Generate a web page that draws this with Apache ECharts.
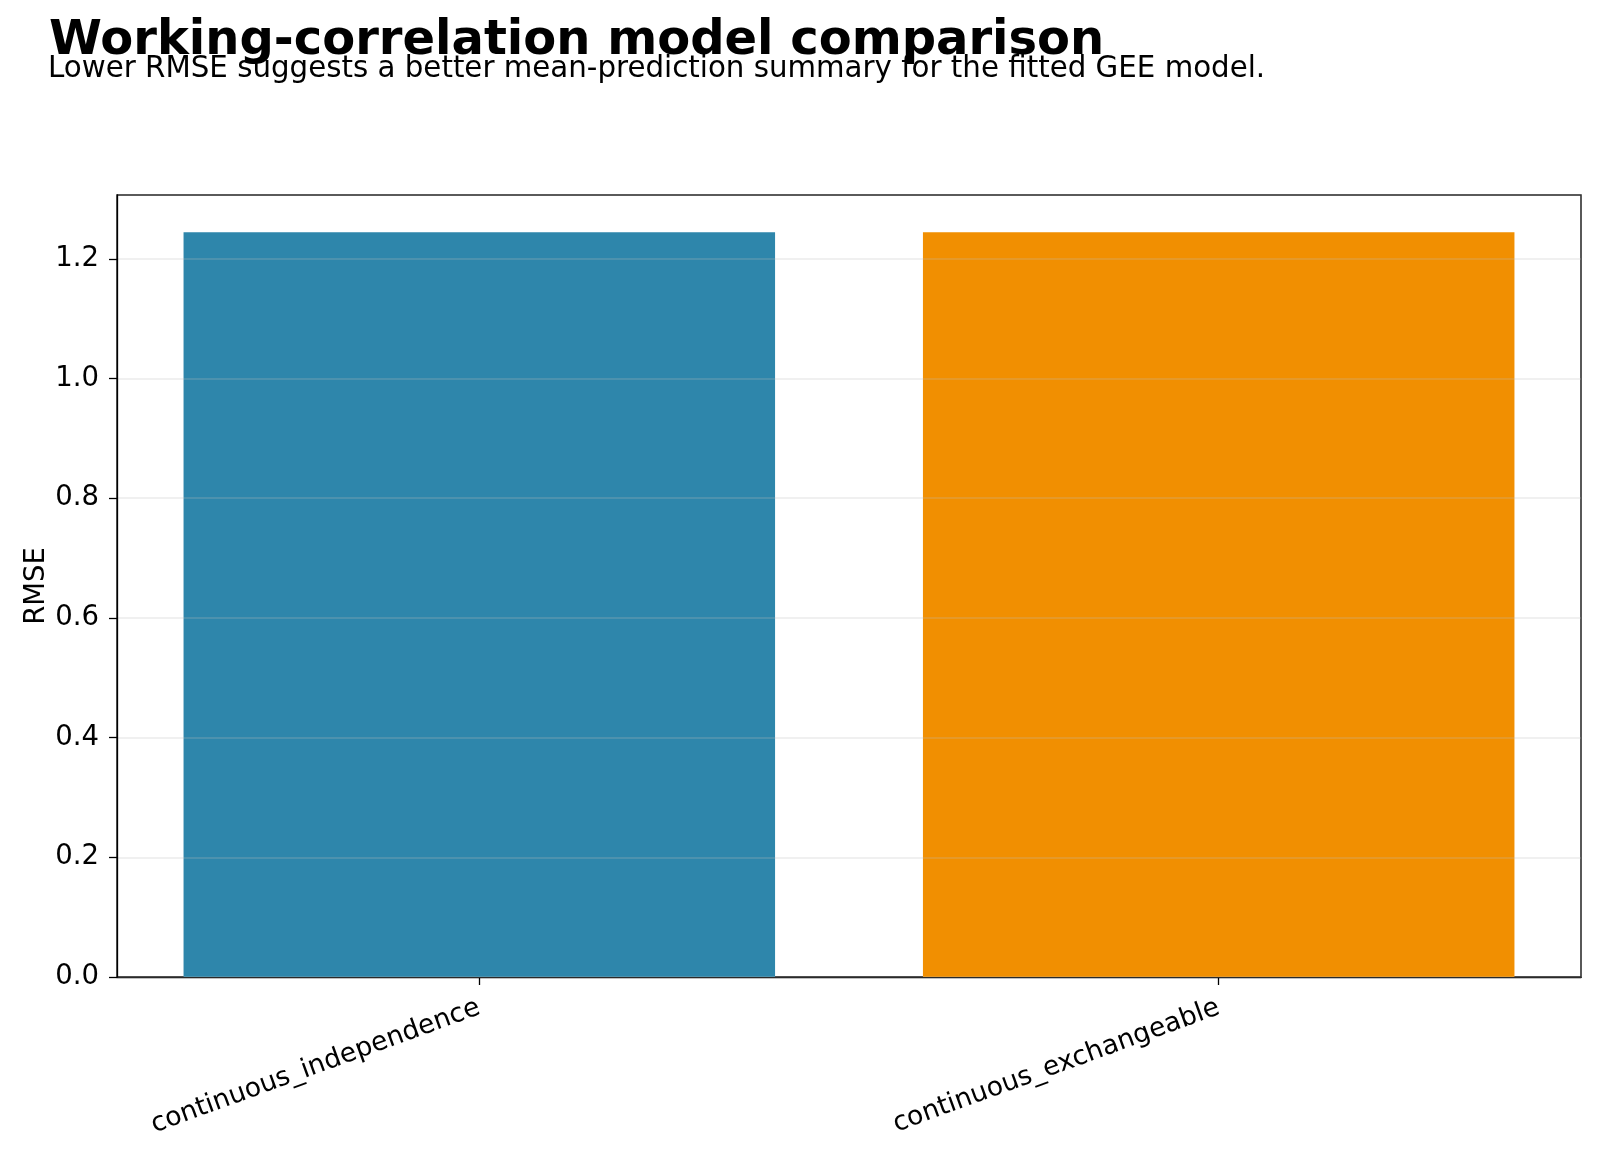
<!DOCTYPE html>
<html>
<head>
<meta charset="utf-8">
<script src="https://cdn.jsdelivr.net/npm/echarts@6/dist/echarts.min.js"></script>
<style>
  html, body { margin: 0; padding: 0; background: #fff; }
  #chart { width: 1600px; height: 1159px; }
</style>
</head>
<body>
<div id="chart"></div>
<script>
// Data
const categories = ['continuous_independence', 'continuous_exchangeable'];
const positions = [0, 1];
const rmseValues = [1.2445, 1.2446];
const barColors = ['#2E86AB', '#F18F01'];
const yTicks = [0, 0.2, 0.4, 0.6, 0.8, 1.0, 1.2];

const FONT = 'DejaVu Sans';
const TICK_FONT = 27.5;

// plot box (px) and matplotlib-like x range with 5% margins
const GRID = { left: 117, right: 19, top: 195, bottom: 182 };
const X_MIN = -0.49, X_MAX = 1.49;
const plotWidth = 1600 - GRID.left - GRID.right;
const barPx = 0.8 / (X_MAX - X_MIN) * plotWidth;

const chart = echarts.init(document.getElementById('chart'), null, { renderer: 'canvas' });

const option = {
    backgroundColor: '#fff',
    animation: false,
    title: [
        {
            text: 'Working-correlation model comparison',
            left: 44,
            top: 13,
            textStyle: { fontFamily: FONT, fontWeight: 'bold', fontSize: 48, color: '#000' }
        },
        {
            text: 'Lower RMSE suggests a better mean-prediction summary for the fitted GEE model.',
            left: 43,
            top: 50,
            textStyle: { fontFamily: FONT, fontWeight: 'normal', fontSize: 29.3, color: '#000' }
        }
    ],
    grid: {
        left: GRID.left,
        right: GRID.right,
        top: GRID.top,
        bottom: GRID.bottom,
        show: true,
        borderColor: '#000',
        borderWidth: 1.3,
        containLabel: false
    },
    xAxis: {
        type: 'value',
        min: X_MIN,
        max: X_MAX,
        axisLine: { show: true, onZero: false, lineStyle: { color: '#000', width: 1.3 } },
        axisTick: { show: true, customValues: positions, length: 8, lineStyle: { color: '#000', width: 1.3 } },
        axisLabel: {
            customValues: positions,
            rotate: 20,
            margin: 30,
            fontFamily: FONT,
            fontSize: 26.6,
            color: '#000',
            formatter: v => categories[Math.round(v)] || ''
        },
        splitLine: { show: false }
    },
    yAxis: {
        type: 'value',
        min: 0,
        max: 1.3067,
        interval: 0.2,
        z: 5,
        name: 'RMSE',
        nameLocation: 'middle',
        nameGap: 66,
        nameMoveOverlap: false,
        nameRotate: 90,
        nameTextStyle: { fontFamily: FONT, fontSize: TICK_FONT, color: '#000' },
        axisLine: { show: true, onZero: false, lineStyle: { color: '#000', width: 1.3 } },
        axisTick: { show: true, length: 8, lineStyle: { color: '#000', width: 1.3 } },
        axisLabel: {
            margin: 18,
            fontFamily: FONT,
            fontSize: TICK_FONT,
            color: '#000',
            showMaxLabel: false,
            formatter: v => yTicks.some(t => Math.abs(t - v) < 1e-9) ? v.toFixed(1) : ''
        },
        splitLine: { show: true, lineStyle: { color: 'rgba(190,190,190,0.3)', width: 1.6 } }
    },
    series: [{
        type: 'bar',
        barWidth: barPx,
        data: positions.map((x, i) => ({ value: [x, rmseValues[i]], itemStyle: { color: barColors[i] } }))
    }]
};

chart.setOption(option);
</script>
</body>
</html>
